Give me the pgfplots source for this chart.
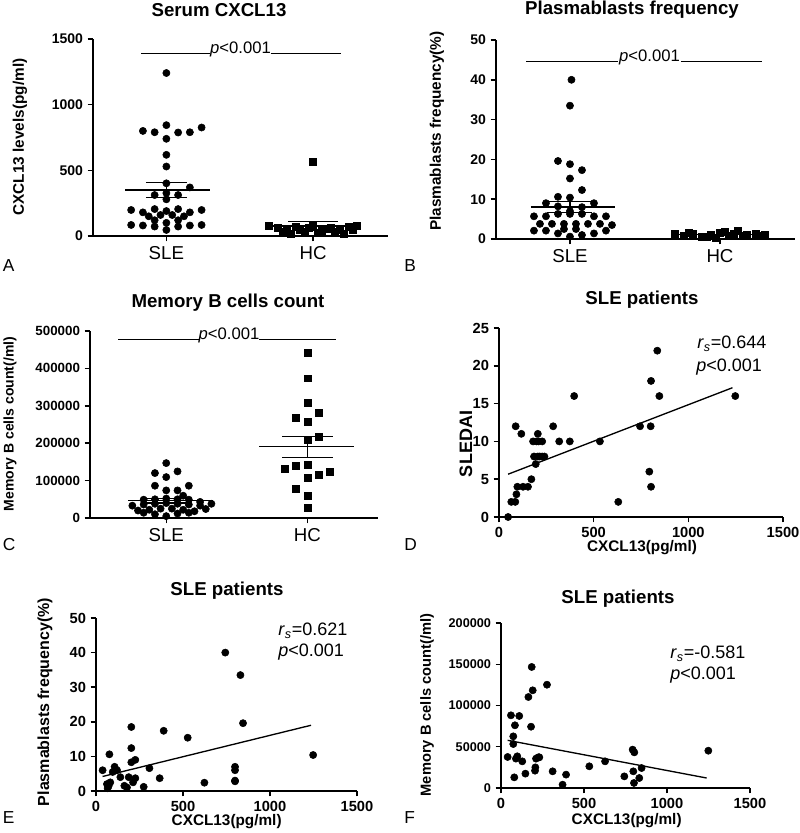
\documentclass[border=0pt]{standalone}
\usepackage{pgfplots}
\pgfplotsset{compat=1.18}
\usepackage{fontspec}
\setmainfont{Liberation Sans}
\pgfplotsset{
  prism/.style={scale only axis, anchor=south west,
    axis x line*=bottom, axis y line*=left,
    axis line style={line width=1.1pt},
    tick align=outside, major tick length=4pt,
    tick style={line width=1.1pt, black},
    clip=false,
    tick label style={font=\fontsize{10.5}{12}\selectfont\bfseries},
    /pgf/number format/assume math mode=true,
    /pgf/number format/1000 sep={},
    scaled y ticks=false, scaled x ticks=false,
    yticklabel style={/pgf/number format/fixed, /pgf/number format/1000 sep={}},
    xticklabel style={/pgf/number format/fixed, /pgf/number format/1000 sep={}},
    minor tick num=0},
  scat/.style={prism, tick label style={font=\fontsize{11}{13}\selectfont\bfseries}},
  bee/.style={prism, xtick={1,2}, xticklabels={SLE,HC},
    xticklabel style={font=\fontsize{14}{16}\selectfont\mdseries}},
  dot/.style={only marks, mark=*, mark size=2.7pt, black},
  sq/.style={only marks, mark=square*, mark size=2.6pt, black},
  ln/.style={black, line width=1pt, no marks},
  sig/.style={black, line width=0.7pt, no marks},
}
\newcommand{\ttl}{\fontsize{14}{16}\selectfont\bfseries}
\newcommand{\ann}{\fontsize{12.5}{14}\selectfont}
\newcommand{\annb}{\fontsize{13.5}{15}\selectfont}
\newcommand{\pl}{\fontsize{13}{15}\selectfont}
\newcommand{\fs}[1]{\fontsize{#1}{#1}\selectfont\bfseries}
\begin{document}
\begin{tikzpicture}
\path[use as bounding box] (0,0) rectangle (600pt,624.75pt);
% ---------- A ----------
\begin{axis}[bee, at={(69.75pt,447.75pt)}, width=221.25pt, height=147.75pt,
  xmin=0.5, xmax=2.51, ymin=0, ymax=1500, ytick={0,500,1000,1500}]
\addplot[dot] coordinates {(1.00,1241)(0.84,800)(0.92,790)(1.00,844)(1.08,788)(1.16,790)(1.24,826)(1.00,740)(1.00,618)(1.00,529)(1.00,401)(1.16,370)(0.92,312)(1.00,327)(1.08,312)(1.00,279)(0.76,198)(0.84,180)(0.92,205)(1.00,190)(1.08,205)(1.16,180)(1.24,198)(0.88,150)(0.96,160)(1.04,160)(1.12,150)(0.76,84)(0.84,80)(0.92,72)(1.00,100)(1.08,72)(1.16,80)(1.24,84)(0.92,120)(1.08,120)(1.00,46)};
\addplot[sq] coordinates {(1.70,75)(1.76,60)(1.82,45)(1.88,70)(1.94,35)(2.00,80)(2.06,40)(2.12,65)(2.18,50)(2.24,70)(2.30,80)(1.79,30)(1.91,50)(2.03,25)(2.15,30)(2.27,45)(1.97,60)(2.09,55)(2.00,565)(1.85,20)(2.21,20)};
\addplot[ln] coordinates {(0.72,350)(1.30,350)};
\addplot[ln] coordinates {(0.86,407)(1.14,407)};
\addplot[ln] coordinates {(0.86,295)(1.14,295)};
\addplot[ln] coordinates {(1,295)(1,407)};
\addplot[ln] coordinates {(1.71,75)(2.32,75)};
\addplot[ln] coordinates {(1.83,112)(2.17,112)};
\addplot[ln] coordinates {(1.83,40)(2.17,40)};
\addplot[ln] coordinates {(2,40)(2,112)};
\addplot[sig] coordinates {(0.83,1393)(1.30,1393)};
\addplot[sig] coordinates {(1.71,1393)(2.19,1393)};
\node[anchor=base, inner sep=0pt, font=\ann] at (axis cs:1.505,1393) {\textit{p}<0.001};
\end{axis}
% ---------- B ----------
\begin{axis}[bee, at={(372pt,445.5pt)}, width=224.25pt, height=149.25pt,
  xmin=0.507, xmax=2.5, ymin=0, ymax=50, ytick={0,10,20,30,40,50}]
\addplot[dot] coordinates {(1.01,40)(1.00,33.5)(0.92,19.6)(1.00,18.8)(1.08,17.3)(1.00,15.2)(1.08,12.3)(0.92,10.6)(1.00,10.4)(0.84,9.0)(1.16,9.0)(0.92,8.2)(1.08,8.0)(1.00,7.0)(0.76,5.7)(0.84,5.7)(0.92,6.3)(1.00,6.3)(1.08,6.3)(1.16,5.7)(1.24,5.7)(0.80,3.8)(0.88,3.8)(0.96,3.8)(1.04,3.8)(1.12,3.8)(1.20,3.8)(1.28,3.5)(0.76,2.1)(0.84,2.1)(0.92,1.4)(1.00,0.6)(1.08,1.0)(1.16,1.4)(1.24,2.1)(0.96,2.5)(1.04,2.5)};
\addplot[sq] coordinates {(1.70,1.3)(1.76,0.8)(1.82,1.2)(1.88,0.6)(1.94,1.1)(2.00,1.5)(2.06,0.9)(2.12,2.0)(2.18,1.0)(2.24,1.4)(2.30,1.1)(1.79,1.5)(1.91,0.5)(2.03,1.8)(2.15,0.7)(2.27,0.9)(1.97,0.4)(2.09,1.2)};
\addplot[ln] coordinates {(0.74,8.0)(1.30,8.0)};
\addplot[ln] coordinates {(0.85,9.4)(1.15,9.4)};
\addplot[ln] coordinates {(0.85,6.6)(1.15,6.6)};
\addplot[ln] coordinates {(1,6.6)(1,9.4)};
\addplot[ln] coordinates {(1.70,1.1)(2.32,1.1)};
\addplot[sig] coordinates {(0.71,44.6)(1.32,44.6)};
\addplot[sig] coordinates {(1.74,44.6)(2.28,44.6)};
\node[anchor=base, inner sep=0pt, font=\ann] at (axis cs:1.53,44.6) {\textit{p}<0.001};
\end{axis}
% ---------- C ----------
\begin{axis}[bee, at={(67.5pt,236.25pt)}, width=216pt, height=140.25pt,
  xmin=0.46, xmax=2.5, ymin=0, ymax=500000, ytick={0,100000,200000,300000,400000,500000},
  yticklabel style={font=\fs{10}}]
\addplot[dot] coordinates {(1.00,146800)(0.92,120100)(1.08,124600)(1.00,109400)(0.92,86300)(1.16,86300)(1.00,73800)(1.08,73800)(1.12,59600)(0.84,49000)(0.92,50000)(1.00,52000)(1.08,50000)(1.16,49000)(1.24,43000)(0.76,33000)(0.84,36000)(0.92,38000)(1.00,40000)(1.08,38000)(1.16,36000)(1.24,33000)(1.32,38000)(0.80,20000)(0.88,22000)(0.96,25000)(1.04,25000)(1.12,22000)(1.20,18000)(1.28,24000)(0.92,10000)(1.00,5000)(1.08,12000)(0.84,14000)(1.16,14000)};
\addplot[sq] coordinates {(2.00,442200)(2.00,373700)(2.00,307000)(1.92,266900)(2.08,280300)(2.00,258000)(2.08,218000)(2.00,209100)(1.84,130800)(1.92,139700)(2.00,142400)(2.08,115700)(2.16,124600)(2.00,106800)(1.92,77400)(2.00,59600)(2.00,26700)};
\addplot[ln] coordinates {(0.73,46000)(1.33,46000)};
\addplot[ln] coordinates {(0.83,53000)(1.17,53000)};
\addplot[ln] coordinates {(0.83,40000)(1.17,40000)};
\addplot[ln] coordinates {(1,40000)(1,53000)};
\addplot[ln] coordinates {(1.66,190400)(2.33,190400)};
\addplot[ln] coordinates {(1.82,218000)(2.18,218000)};
\addplot[ln] coordinates {(1.82,162000)(2.18,162000)};
\addplot[ln] coordinates {(2,162000)(2,218000)};
\addplot[sig] coordinates {(0.66,477800)(1.23,477800)};
\addplot[sig] coordinates {(1.66,477800)(2.2,477800)};
\node[anchor=base, inner sep=0pt, font=\ann] at (axis cs:1.445,477800) {\textit{p}<0.001};
\end{axis}
% ---------- D ----------
\begin{axis}[scat, at={(374.25pt,237pt)}, width=213pt, height=141.75pt,
  xmin=0, xmax=1500, ymin=0, ymax=25, xtick={0,500,1000,1500}, ytick={0,5,10,15,20,25}]
\addplot[dot] coordinates {(48,0)(65,2)(86,2)(92,3)(97,4)(127,4)(153,4)(171,5)(88,12)(118,11)(194,7)(180,10)(210,10)(228,10)(205,11)(185,8)(205,8)(228,8)(215,8)(198,10)(240,8)(286,12)(318,10)(374,10)(397,16)(533,10)(630,2)(745,12)(801,12)(803,18)(794,6)(803,4)(836,22)(847,16)(1248,16)};
\addplot[ln] coordinates {(48,5.66)(1233,17.1)};
\end{axis}
% ---------- E ----------
\begin{axis}[scat, at={(72pt,31.5pt)}, width=195.75pt, height=129.75pt,
  xmin=0, xmax=1500, ymin=0, ymax=50, xtick={0,500,1000,1500}, ytick={0,10,20,30,40,50}]
\addplot[dot] coordinates {(38,6)(77,10.6)(63,2)(73,1.5)(82,2.5)(67,0.8)(107,7)(121,6)(96,5.5)(140,4)(163,1.5)(178,1)(188,4)(203,18.5)(203,12.4)(203,8.3)(226,9)(213,2.5)(226,3.7)(274,1.2)(307,6.6)(366,3.7)(389,17.4)(527,15.4)(623,2.4)(743,40)(830,33.5)(845,19.6)(799,7)(799,6)(799,3)(799,2.8)(1248,10.4)};
\addplot[ln] coordinates {(38,4.2)(1236,19.0)};
\end{axis}
% ---------- F ----------
\begin{axis}[scat, at={(375.75pt,33.75pt)}, width=186.75pt, height=123.75pt,
  xmin=0, xmax=1500, ymin=0, ymax=200000, xtick={0,500,1000,1500}, ytick={0,50000,100000,150000,200000},
  yticklabel style={font=\fs{9.5}}]
\addplot[dot] coordinates {(40,37600)(60,88100)(74,62600)(74,53300)(84,76000)(80,12900)(90,35600)(98,38400)(110,87300)(128,32300)(147,17400)(165,110300)(185,146700)(181,74300)(191,118400)(205,21000)(207,25000)(211,35600)(225,37200)(231,37200)(277,125200)(311,20200)(371,4000)(392,16200)(532,26300)(627,32300)(743,14100)(793,46500)(803,43200)(797,20200)(801,6100)(833,12100)(847,24200)(1249,45200)};
\addplot[ln] coordinates {(40,57800)(1239,12100)};
\end{axis}
% ---------- titles ----------
\node[anchor=base, font=\ttl] at (164.25pt,612pt) {Serum CXCL13};
\node[anchor=base, font=\ttl] at (474pt,613.5pt) {Plasmablasts frequency};
\node[anchor=base, font=\ttl] at (171pt,393.75pt) {Memory B cells count};
\node[anchor=base, font=\ttl] at (481.5pt,396pt) {SLE patients};
\node[anchor=base, font=\ttl] at (170.25pt,177.75pt) {SLE patients};
\node[anchor=base, font=\ttl] at (463.5pt,171.75pt) {SLE patients};
% ---------- y labels ----------
\node[rotate=90, font=\fs{11.5}] at (15pt,522pt) {CXCL13 levels(pg/ml)};
\node[rotate=90, font=\fs{11.5}] at (327.75pt,526.5pt) {Plasmablasts frequency(\%)};
\node[rotate=90, font=\fs{10.5}] at (7.5pt,306.75pt) {Memory B cells count(/ml)};
\node[rotate=90, font=\fs{13.5}] at (349.5pt,291.75pt) {SLEDAI};
\node[rotate=90, font=\fs{12}] at (33.75pt,98.25pt) {Plasmablasts frequency(\%)};
\node[rotate=90, font=\fs{11}] at (320.25pt,96pt) {Memory B cells count(/ml)};
% ---------- x labels ----------
\node[font=\fs{11.5}] at (481.5pt,213.75pt) {CXCL13(pg/ml)};
\node[font=\fs{11.5}] at (170pt,8.25pt) {CXCL13(pg/ml)};
\node[font=\fs{11.5}] at (470pt,9pt) {CXCL13(pg/ml)};
% ---------- annotations ----------
\node[anchor=west, inner sep=0pt, font=\annb] at (522.75pt,366.75pt) {\textit{r}\textsubscript{\textit{s}}=0.644};
\node[anchor=west, inner sep=0pt, font=\annb] at (522pt,349.5pt) {\textit{p}<0.001};
\node[anchor=west, inner sep=0pt, font=\annb] at (208.5pt,151.5pt) {\textit{r}\textsubscript{\textit{s}}=0.621};
\node[anchor=west, inner sep=0pt, font=\annb] at (208.5pt,135.75pt) {\textit{p}<0.001};
\node[anchor=west, inner sep=0pt, font=\annb] at (502.5pt,134.25pt) {\textit{r}\textsubscript{\textit{s}}=-0.581};
\node[anchor=west, inner sep=0pt, font=\annb] at (502.5pt,118.5pt) {\textit{p}<0.001};
% ---------- panel letters ----------
\node[anchor=base west, inner sep=0pt, font=\pl] at (2pt,420.75pt) {A};
\node[anchor=base west, inner sep=0pt, font=\pl] at (303pt,420.75pt) {B};
\node[anchor=base west, inner sep=0pt, font=\pl] at (2pt,211.5pt) {C};
\node[anchor=base west, inner sep=0pt, font=\pl] at (303pt,211.5pt) {D};
\node[anchor=base west, inner sep=0pt, font=\pl] at (2pt,6.75pt) {E};
\node[anchor=base west, inner sep=0pt, font=\pl] at (303pt,6.75pt) {F};
\end{tikzpicture}
\end{document}
